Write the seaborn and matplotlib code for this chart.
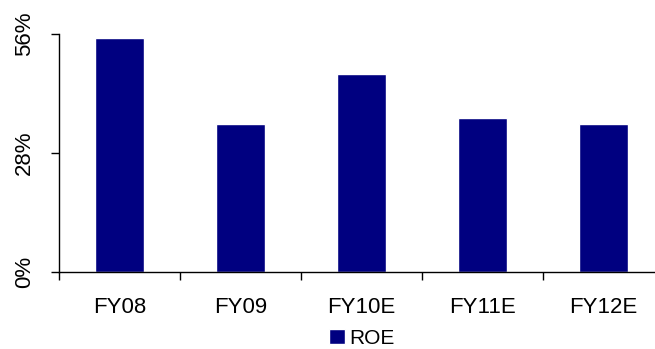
import matplotlib
matplotlib.use("Agg")
import matplotlib.pyplot as plt
import seaborn as sns
import pandas as pd
from matplotlib.ticker import FixedLocator, FuncFormatter

categories = ["FY08", "FY09", "FY10E", "FY11E", "FY12E"]
roe = [55.0, 34.8, 46.5, 36.2, 34.8]
y_ticks = [0, 28, 56]
series_name = "ROE"

sns.set_theme(style="white")
plt.rcParams["font.family"] = ["Liberation Sans", "DejaVu Sans"]
plt.rcParams["text.color"] = "black"
plt.rcParams["xtick.color"] = "black"
plt.rcParams["ytick.color"] = "black"

df = pd.DataFrame({"year": categories, "value": roe, "series": series_name})

fig = plt.figure(figsize=(6.55, 3.49), dpi=100)
ax = fig.add_axes([0.090, 0.2206, 1.0137 - 0.090, 0.904 - 0.2206])

sns.barplot(data=df, x="year", y="value", hue="series", palette=["#000080"],
            width=0.405, saturation=1, ax=ax, legend=True)

ax.set_xlim(-0.5, len(categories) - 0.5)
ax.set_ylim(0, 56)
ax.set_xlabel("")
ax.set_ylabel("")

ax.yaxis.set_major_locator(FixedLocator(y_ticks))
ax.yaxis.set_major_formatter(FuncFormatter(lambda v, p: f"{v:.0f}%"))
for lab in ax.get_yticklabels():
    lab.set_rotation(90)
    lab.set_va("center")
ax.tick_params(axis="y", which="major", direction="out", length=6, width=1,
               color="black", labelcolor="black", labelsize=16, pad=11, left=True)

ax.xaxis.set_minor_locator(FixedLocator([i - 0.5 for i in range(len(categories) + 1)]))
ax.tick_params(axis="x", which="major", length=0, labelsize=16, pad=18,
               labelcolor="black")
ax.tick_params(axis="x", which="minor", direction="out", length=6, width=1,
               color="black", bottom=True)

for side in ["top", "right"]:
    ax.spines[side].set_visible(False)
for side in ["left", "bottom"]:
    ax.spines[side].set_color("black")
    ax.spines[side].set_linewidth(1)

handles, labels = ax.get_legend_handles_labels()
ax.get_legend().remove()
fig.legend(handles, labels, loc="center", bbox_to_anchor=(0.552, 0.03),
           frameon=False, fontsize=15, handlelength=0.75, handleheight=0.75,
           handletextpad=0.2, borderpad=0.0, labelcolor="black")

fig.savefig("out.png", dpi=100)
